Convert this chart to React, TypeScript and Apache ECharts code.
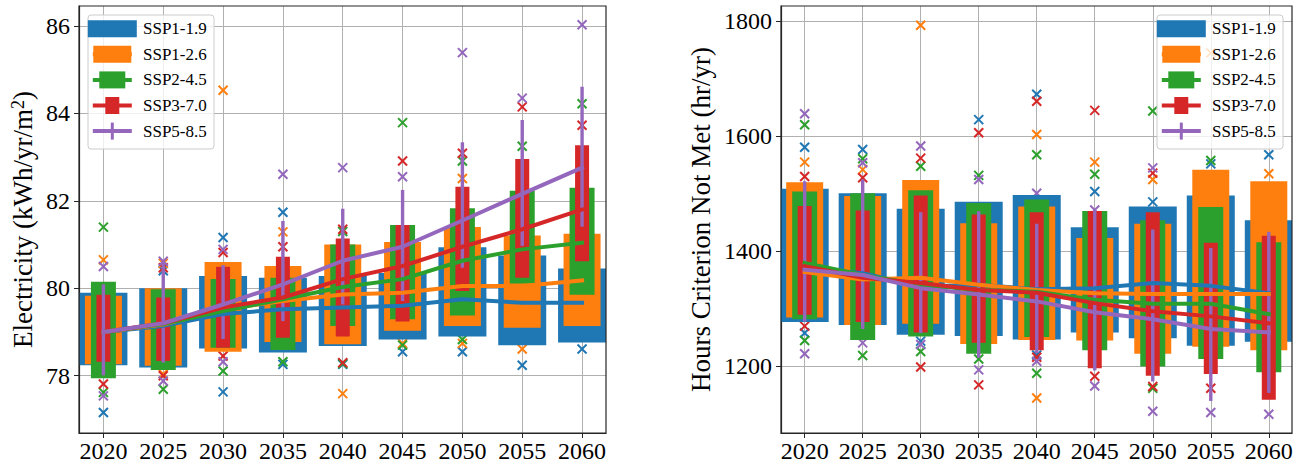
import React, { useEffect, useRef } from 'react';
import * as echarts from 'echarts';

// ---------- data ----------
const YEARS = [2020, 2025, 2030, 2035, 2040, 2045, 2050, 2055, 2060];
const SSP_NAMES = ['SSP1-1.9', 'SSP1-2.6', 'SSP2-4.5', 'SSP3-7.0', 'SSP5-8.5'];
const X_TICKS = [2020, 2025, 2030, 2035, 2040, 2045, 2050, 2055, 2060];
const ELEC_TICKS = [78, 80, 82, 84, 86];
const HOURS_TICKS = [1200, 1400, 1600, 1800];

// Electricity (kWh/yr/m2): rows = SSP1-1.9, SSP1-2.6, SSP2-4.5, SSP3-7.0, SSP5-8.5
const ELEC_LOW = [
  [78.24, 78.19, 78.62, 78.53, 78.68, 78.83, 78.90, 78.70, 78.76],
  [78.26, 78.23, 78.55, 78.77, 78.72, 79.03, 79.14, 79.10, 79.14],
  [77.94, 78.13, 78.64, 78.59, 79.14, 79.29, 79.38, 80.11, 79.85],
  [78.32, 78.34, 78.64, 78.87, 78.90, 79.24, 79.94, 80.24, 80.62],
  [78.01, 78.30, 78.84, 79.25, 79.63, 79.71, 80.47, 80.97, 81.41],
];
const ELEC_HIGH = [
  [79.90, 80.00, 80.28, 80.24, 80.28, 80.35, 80.94, 80.75, 80.45],
  [79.83, 80.00, 80.60, 80.51, 81.00, 81.06, 81.40, 81.21, 81.25],
  [80.15, 79.98, 80.21, 80.24, 81.00, 81.45, 81.83, 82.23, 82.30],
  [79.85, 79.79, 80.49, 80.72, 81.14, 81.45, 82.32, 82.96, 83.27],
  [80.09, 80.59, 80.53, 81.54, 81.82, 82.25, 83.34, 83.85, 84.61],
];
const ELEC_MEAN = [
  [79.0, 79.14, 79.41, 79.52, 79.56, 79.60, 79.75, 79.67, 79.67],
  [79.0, 79.17, 79.52, 79.71, 79.86, 79.90, 80.05, 80.05, 80.18],
  [79.0, 79.18, 79.48, 79.75, 80.03, 80.21, 80.63, 80.89, 81.04],
  [79.0, 79.20, 79.56, 79.79, 80.21, 80.51, 80.95, 81.35, 81.80],
  [79.0, 79.20, 79.63, 80.09, 80.63, 80.95, 81.55, 82.16, 82.76],
];
// [year, value, ssp index]
const ELEC_OUTLIERS = [
  [2020, 81.40, 2], [2020, 80.65, 1], [2020, 80.50, 4], [2020, 77.81, 3], [2020, 77.62, 2], [2020, 77.54, 4], [2020, 77.16, 0],
  [2025, 80.62, 4], [2025, 80.57, 1], [2025, 80.47, 3], [2025, 80.40, 0], [2025, 78.04, 1], [2025, 78.00, 3], [2025, 77.88, 4], [2025, 77.69, 2],
  [2030, 84.53, 1], [2030, 81.16, 0], [2030, 80.89, 4], [2030, 80.82, 3], [2030, 78.45, 3], [2030, 78.32, 4], [2030, 78.11, 2], [2030, 77.63, 0],
  [2035, 82.61, 4], [2035, 81.74, 0], [2035, 81.29, 1], [2035, 80.95, 3], [2035, 78.32, 2], [2035, 78.26, 0],
  [2040, 82.76, 4], [2040, 81.35, 3], [2040, 81.30, 2], [2040, 78.30, 3], [2040, 78.28, 2], [2040, 78.26, 0], [2040, 77.59, 1],
  [2045, 83.79, 2], [2045, 82.91, 3], [2045, 82.55, 4], [2045, 78.74, 1], [2045, 78.70, 2], [2045, 78.55, 0],
  [2050, 85.39, 4], [2050, 83.09, 3], [2050, 82.91, 2], [2050, 82.51, 1], [2050, 78.83, 2], [2050, 78.74, 1], [2050, 78.55, 0],
  [2055, 84.35, 4], [2055, 84.15, 3], [2055, 83.25, 2], [2055, 78.61, 1], [2055, 78.24, 0],
  [2060, 86.03, 4], [2060, 84.22, 2], [2060, 83.73, 3], [2060, 78.61, 0],
];

// Hours Criterion Not Met (hr/yr)
const HOURS_LOW = [
  [1277, 1272, 1255, 1253, 1247, 1259, 1249, 1236, 1243],
  [1285, 1272, 1274, 1239, 1246, 1245, 1222, 1234, 1228],
  [1282, 1246, 1252, 1222, 1251, 1228, 1200, 1213, 1190],
  [1290, 1277, 1259, 1241, 1228, 1197, 1184, 1187, 1142],
  [1278, 1265, 1258, 1215, 1223, 1193, 1174, 1140, 1154],
];
const HOURS_HIGH = [
  [1509, 1501, 1474, 1486, 1498, 1442, 1478, 1497, 1454],
  [1520, 1496, 1524, 1449, 1478, 1423, 1448, 1542, 1522],
  [1504, 1501, 1506, 1484, 1490, 1470, 1454, 1477, 1416],
  [1479, 1471, 1497, 1464, 1468, 1470, 1468, 1415, 1427],
  [1522, 1525, 1468, 1470, 1448, 1471, 1438, 1406, 1434],
];
const HOURS_MEAN = [
  [1371, 1362, 1339, 1342, 1334, 1336, 1345, 1340, 1327],
  [1364, 1351, 1354, 1342, 1333, 1327, 1326, 1326, 1326],
  [1380, 1359, 1342, 1333, 1330, 1316, 1309, 1309, 1291],
  [1374, 1354, 1345, 1333, 1328, 1310, 1296, 1287, 1275],
  [1368, 1359, 1336, 1325, 1313, 1294, 1282, 1265, 1259],
];
const HOURS_OUTLIERS = [
  [2020, 1639, 4], [2020, 1620, 2], [2020, 1581, 0], [2020, 1555, 1], [2020, 1530, 3], [2020, 1270, 3], [2020, 1258, 0], [2020, 1245, 2], [2020, 1222, 4],
  [2025, 1577, 0], [2025, 1561, 2], [2025, 1554, 4], [2025, 1542, 1], [2025, 1528, 3], [2025, 1241, 4], [2025, 1219, 2],
  [2030, 1793, 1], [2030, 1583, 4], [2030, 1562, 3], [2030, 1548, 2], [2030, 1244, 0], [2030, 1238, 4], [2030, 1226, 2], [2030, 1199, 3],
  [2035, 1629, 0], [2035, 1606, 3], [2035, 1532, 2], [2035, 1525, 4], [2035, 1213, 2], [2035, 1194, 4], [2035, 1168, 3],
  [2040, 1673, 0], [2040, 1661, 3], [2040, 1603, 1], [2040, 1568, 2], [2040, 1501, 4], [2040, 1220, 0], [2040, 1216, 3], [2040, 1209, 4], [2040, 1188, 2], [2040, 1145, 1],
  [2045, 1645, 3], [2045, 1555, 1], [2045, 1534, 2], [2045, 1504, 0], [2045, 1472, 4], [2045, 1183, 3], [2045, 1166, 4],
  [2050, 1644, 2], [2050, 1545, 4], [2050, 1536, 3], [2050, 1525, 1], [2050, 1486, 0], [2050, 1165, 3], [2050, 1162, 2], [2050, 1122, 4],
  [2055, 1745, 1], [2055, 1558, 2], [2055, 1552, 0], [2055, 1162, 3], [2055, 1120, 4],
  [2060, 1568, 0], [2060, 1535, 1], [2060, 1117, 4],
];

// ---------- styles ----------
const COLORS = ['#1f77b4', '#ff7f0e', '#2ca02c', '#d62728', '#9467bd'];
const BAR_PX = [48, 37, 25, 14, 3.4];
const LEG_PX = [49, 38, 26, 14, 3];
const FONT = 'Liberation Serif';
const FRAME = '#262626';

const GRIDS = [
  { left: 79, top: 6, width: 527, height: 427 },
  { left: 781, top: 6, width: 511, height: 427 },
];
const X_RANGE = [2017.96, 2062.0];
const Y_RANGES = [
  [76.69, 86.457],
  [1084.3, 1826.4],
];

function buildSeries(gi: number, low: number[][], high: number[][], mean: number[][], outliers: number[][]) {
  const series: any[] = [];
  COLORS.forEach((color, i) => {
    series.push({
      type: 'custom',
      xAxisIndex: gi,
      yAxisIndex: gi,
      z: 1,
      silent: true,
      data: outliers.filter((o) => o[2] === i).map((o) => [o[0], o[1]]),
      encode: { x: 0, y: 1 },
      renderItem: (params: any, api: any) => {
        const p = api.coord([api.value(0), api.value(1)]);
        const h = 4.5;
        const st = { stroke: color, lineWidth: 2 };
        return {
          type: 'group',
          children: [
            { type: 'line', shape: { x1: p[0] - h, y1: p[1] - h, x2: p[0] + h, y2: p[1] + h }, style: st },
            { type: 'line', shape: { x1: p[0] - h, y1: p[1] + h, x2: p[0] + h, y2: p[1] - h }, style: st },
          ],
        };
      },
    });
  });
  COLORS.forEach((color, i) => {
    series.push({
      type: 'custom',
      xAxisIndex: gi,
      yAxisIndex: gi,
      z: 2 + i,
      silent: true,
      data: YEARS.map((y, k) => [y, low[i][k], high[i][k]]),
      encode: { x: 0, y: [1, 2] },
      renderItem: (params: any, api: any) => {
        const top = api.coord([api.value(0), api.value(2)]);
        const bot = api.coord([api.value(0), api.value(1)]);
        const w = BAR_PX[i];
        const cs = params.coordSys;
        const shape = echarts.graphic.clipRectByRect(
          { x: top[0] - w / 2, y: top[1], width: w, height: bot[1] - top[1] },
          { x: cs.x, y: cs.y, width: cs.width, height: cs.height }
        );
        if (!shape) return null;
        return { type: 'rect', shape, style: { fill: color } };
      },
    });
  });
  COLORS.forEach((color, i) => {
    series.push({
      type: 'line',
      xAxisIndex: gi,
      yAxisIndex: gi,
      z: 10 + i,
      silent: true,
      symbol: 'none',
      data: YEARS.map((y, k) => [y, mean[i][k]]),
      lineStyle: { color, width: 4, cap: 'square', join: 'round' },
      itemStyle: { color },
    });
  });
  return series;
}

function legendElements(boxX: number) {
  const els: any[] = [
    {
      type: 'rect',
      z: 200,
      silent: true,
      shape: { x: boxX, y: 15, width: 126, height: 134, r: 3 },
      style: { fill: 'rgba(255,255,255,0.8)', stroke: '#cccccc', lineWidth: 1 },
    },
  ];
  SSP_NAMES.forEach((name, i) => {
    const cy = 28.7 + i * 25.6;
    const cx = boxX + 24.3;
    els.push({
      type: 'rect',
      z: 201,
      silent: true,
      shape: { x: cx - 19.5, y: cy - 2, width: 39, height: 4 },
      style: { fill: COLORS[i] },
    });
    els.push({
      type: 'rect',
      z: 202,
      silent: true,
      shape: { x: cx - LEG_PX[i] / 2, y: cy - 8.5, width: LEG_PX[i], height: 17 },
      style: { fill: COLORS[i] },
    });
    els.push({
      type: 'text',
      z: 203,
      silent: true,
      x: boxX + 55,
      y: cy,
      style: {
        text: name,
        font: '17px "Liberation Serif"',
        fontSize: 17,
        fontFamily: FONT,
        fill: '#000',
        align: 'left',
        verticalAlign: 'middle',
      },
    });
  });
  return els;
}

function frameRect(g: { left: number; top: number; width: number; height: number }) {
  return {
    type: 'rect',
    z: 150,
    silent: true,
    shape: { x: g.left, y: g.top, width: g.width, height: g.height },
    style: { fill: 'none', stroke: FRAME, lineWidth: 1.2 },
  };
}

export default function App() {
  const ref = useRef<HTMLDivElement>(null);
  useEffect(() => {
    if (!ref.current) return;
    const chart = echarts.init(ref.current, undefined, { renderer: 'svg' });
    const tickFmt = (ticks: number[]) => (v: number) =>
      ticks.some((t) => Math.abs(t - v) < 1e-6) ? String(Math.round(v)) : '';
    const xAxes = GRIDS.map((g, gi) => ({
      type: 'value',
      gridIndex: gi,
      min: X_RANGE[0],
      max: X_RANGE[1],
      splitNumber: 8,
      axisLine: { show: true, lineStyle: { color: FRAME, width: 1.2 } },
      axisTick: { show: true, inside: false, length: 5, lineStyle: { color: FRAME, width: 1 }, customValues: X_TICKS },
      axisLabel: {
        fontSize: 24,
        fontFamily: FONT,
        color: '#000',
        margin: 6,
        customValues: X_TICKS,
        formatter: tickFmt(X_TICKS),
      },
      splitLine: { show: true, lineStyle: { color: '#b0b0b0', width: 1 } },
    }));
    const yTicks = [ELEC_TICKS, HOURS_TICKS];
    const yAxes = GRIDS.map((g, gi) => ({
      type: 'value',
      gridIndex: gi,
      min: Y_RANGES[gi][0],
      max: Y_RANGES[gi][1],
      splitNumber: gi === 0 ? 5 : 4,
      name:
        gi === 0
          ? '{a|Electricity (kWh/yr/m}{s|2}{a|)}'
          : 'Hours Criterion Not Met (hr/yr)',
      nameLocation: 'middle',
      nameGap: gi === 0 ? 43 : 67,
      nameTextStyle: {
        fontSize: 27,
        fontFamily: FONT,
        color: '#000',
        rich: {
          a: { fontSize: 27, fontFamily: FONT, color: '#000' },
          s: { fontSize: 18, fontFamily: FONT, color: '#000', verticalAlign: 'top' },
        },
      },
      axisLine: { show: true, lineStyle: { color: FRAME, width: 1.2 } },
      axisTick: { show: true, inside: false, length: 5, lineStyle: { color: FRAME, width: 1 }, customValues: yTicks[gi] },
      axisLabel: {
        fontSize: 24,
        fontFamily: FONT,
        color: '#000',
        margin: 9,
        customValues: yTicks[gi],
        formatter: tickFmt(yTicks[gi]),
      },
      splitLine: { show: true, lineStyle: { color: '#b0b0b0', width: 1 } },
    }));
    chart.setOption({
      animation: false,
      backgroundColor: '#ffffff',
      textStyle: { fontFamily: FONT },
      grid: GRIDS.map((g) => ({ ...g, containLabel: false, show: false })),
      xAxis: xAxes,
      yAxis: yAxes,
      series: [
        ...buildSeries(0, ELEC_LOW, ELEC_HIGH, ELEC_MEAN, ELEC_OUTLIERS),
        ...buildSeries(1, HOURS_LOW, HOURS_HIGH, HOURS_MEAN, HOURS_OUTLIERS),
      ],
      graphic: [frameRect(GRIDS[0]), frameRect(GRIDS[1]), ...legendElements(88), ...legendElements(1157)],
    });
    return () => chart.dispose();
  }, []);
  return (
    <div
      ref={ref}
      style={{ position: 'fixed', left: 0, top: 0, width: 1310, height: 471, background: '#fff' }}
    />
  );
}
